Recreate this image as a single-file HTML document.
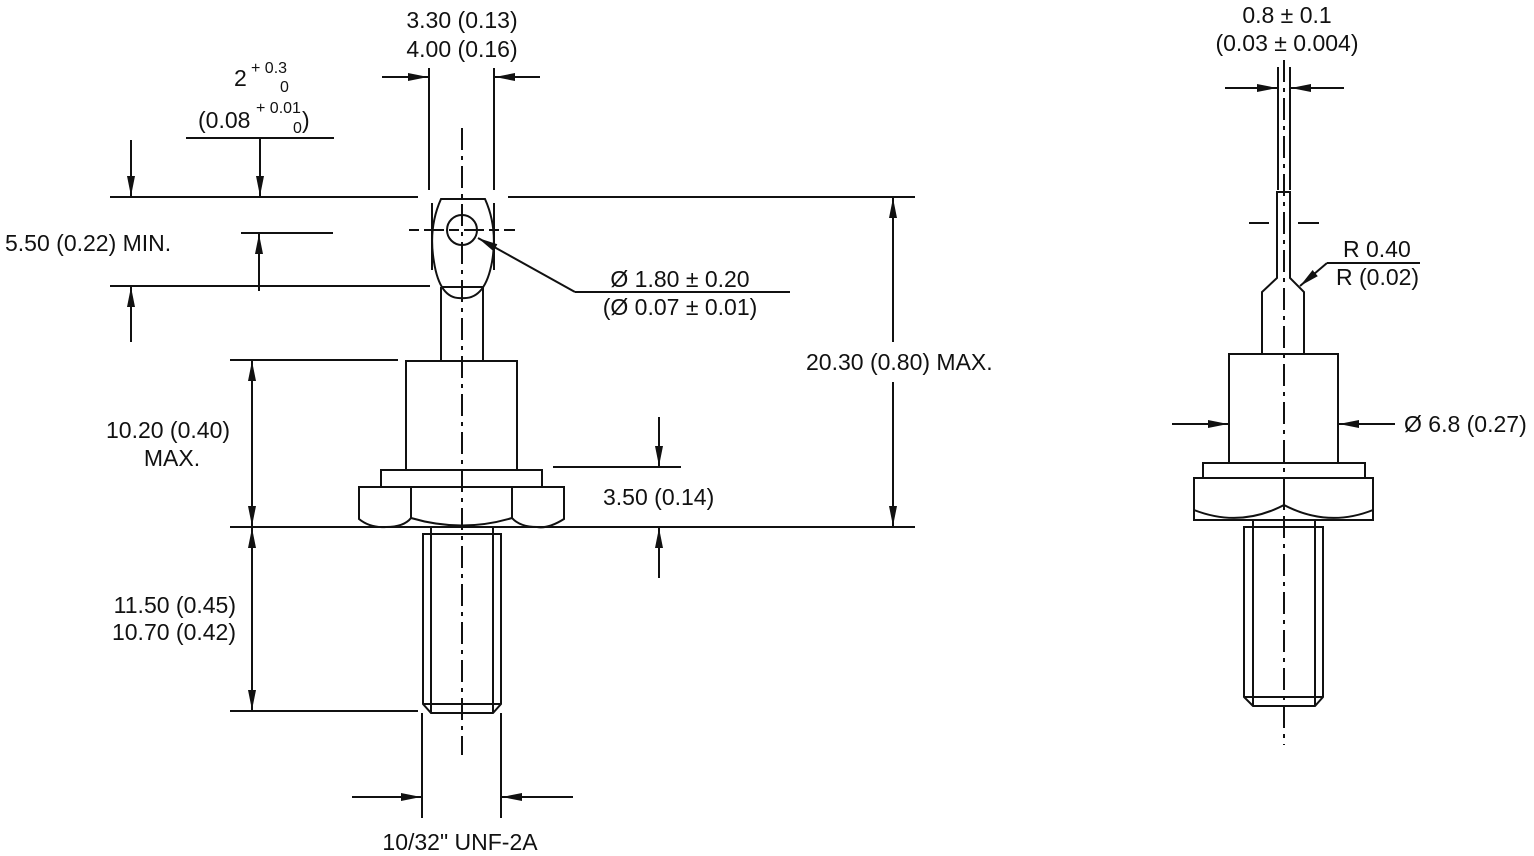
<!DOCTYPE html>
<html><head><meta charset="utf-8"><style>
html,body{margin:0;padding:0;background:#fff;}
svg{display:block;}
text{font-family:"Liberation Sans",Arial,sans-serif;font-size:23px;fill:#111;}
.s{font-size:16px;}
</style></head><body>
<svg width="1534" height="856" viewBox="0 0 1534 856" xmlns="http://www.w3.org/2000/svg">
<defs>
<marker id="a" viewBox="0 0 20 10" refX="20" refY="5" markerWidth="20" markerHeight="10" markerUnits="userSpaceOnUse" orient="auto">
<path d="M0,1 L20,5 L0,9 Z" fill="#111"/></marker>
</defs>
<g stroke="#111" stroke-width="2" fill="none">
<line x1="462" y1="128" x2="462" y2="755" stroke-dasharray="22,6,4,6"/>
<line x1="429" y1="68" x2="429" y2="190"/>
<line x1="494" y1="68" x2="494" y2="190"/>
<line x1="382" y1="77" x2="428" y2="77" marker-end="url(#a)"/>
<line x1="540" y1="77" x2="495" y2="77" marker-end="url(#a)"/>
<line x1="110" y1="197" x2="418" y2="197"/>
<line x1="508" y1="197" x2="915" y2="197"/>
<line x1="186" y1="138" x2="334" y2="138"/>
<line x1="131" y1="140" x2="131" y2="196" marker-end="url(#a)"/>
<line x1="260" y1="138" x2="260" y2="196" marker-end="url(#a)"/>
<line x1="241" y1="233" x2="333" y2="233"/>
<line x1="259" y1="291" x2="259" y2="234" marker-end="url(#a)"/>
<line x1="110" y1="286" x2="430" y2="286"/>
<line x1="131" y1="342" x2="131" y2="287" marker-end="url(#a)"/>
<line x1="432" y1="203" x2="432" y2="270"/>
<line x1="494" y1="203" x2="494" y2="270"/>
<path d="M441,199 L485,199 Q498,228 492,262 Q485,300 462,298 Q440,300 434,262 Q428,228 441,199 Z"/>
<line x1="441" y1="287" x2="484" y2="287"/>
<circle cx="462" cy="230" r="15"/>
<line x1="409" y1="230" x2="515" y2="230" stroke-dasharray="10,5,20,5"/>
<line x1="575" y1="292" x2="478" y2="238" marker-end="url(#a)"/>
<line x1="575" y1="292" x2="790" y2="292"/>
<line x1="441" y1="287" x2="441" y2="361"/>
<line x1="483" y1="287" x2="483" y2="361"/>
<rect x="406" y="361" width="111" height="109"/>
<line x1="230" y1="360" x2="398" y2="360"/>
<rect x="381" y="470" width="161" height="17"/>
<path d="M359,487 L564,487 L564,519 Q548,529 537,527 Q520,527 512,518 Q462,533 411,518 Q404,527 386,527 Q370,528 359,519 Z"/>
<line x1="411" y1="487" x2="411" y2="518"/>
<line x1="512" y1="487" x2="512" y2="518"/>
<line x1="230" y1="527" x2="915" y2="527"/>
<line x1="553" y1="467" x2="681" y2="467"/>
<line x1="659" y1="417" x2="659" y2="466" marker-end="url(#a)"/>
<line x1="659" y1="578" x2="659" y2="528" marker-end="url(#a)"/>
<line x1="893" y1="342" x2="893" y2="198" marker-end="url(#a)"/>
<line x1="893" y1="382" x2="893" y2="526" marker-end="url(#a)"/>
<line x1="252" y1="440" x2="252" y2="361" marker-end="url(#a)"/>
<line x1="252" y1="440" x2="252" y2="526" marker-end="url(#a)"/>
<line x1="252" y1="620" x2="252" y2="528" marker-end="url(#a)"/>
<line x1="252" y1="620" x2="252" y2="710" marker-end="url(#a)"/>
<line x1="230" y1="711" x2="418" y2="711"/>
<path d="M423,534 L501,534 L501,704 L493,713 L431,713 L423,704 Z"/>
<line x1="423" y1="704" x2="501" y2="704"/>
<line x1="431" y1="527" x2="431" y2="713"/>
<line x1="493" y1="527" x2="493" y2="713"/>
<line x1="422" y1="713" x2="422" y2="818"/>
<line x1="501" y1="713" x2="501" y2="818"/>
<line x1="352" y1="797" x2="421" y2="797" marker-end="url(#a)"/>
<line x1="573" y1="797" x2="502" y2="797" marker-end="url(#a)"/>

<line x1="1284" y1="60" x2="1284" y2="745" stroke-dasharray="22,6,4,6"/>
<line x1="1278" y1="67" x2="1278" y2="190"/>
<line x1="1290" y1="67" x2="1290" y2="190"/>
<line x1="1225" y1="88" x2="1277" y2="88" marker-end="url(#a)"/>
<line x1="1344" y1="88" x2="1291" y2="88" marker-end="url(#a)"/>
<path d="M1262,354 L1262,292 L1277,278 L1277,192 L1290,192 L1290,278 L1304,292 L1304,354"/>
<line x1="1249" y1="223" x2="1269" y2="223"/>
<line x1="1298" y1="223" x2="1319" y2="223"/>
<line x1="1327" y1="263" x2="1420" y2="263"/>
<line x1="1327" y1="263" x2="1300" y2="286" marker-end="url(#a)"/>
<rect x="1229" y="354" width="109" height="109"/>
<line x1="1172" y1="424" x2="1228" y2="424" marker-end="url(#a)"/>
<line x1="1395" y1="424" x2="1339" y2="424" marker-end="url(#a)"/>
<rect x="1203" y="463" width="162" height="15"/>
<path d="M1194,478 L1373,478 L1373,520 L1194,520 Z"/>
<line x1="1284" y1="478" x2="1284" y2="505"/>
<path d="M1194,510 Q1240,528 1284,505 Q1328,528 1373,510"/>
<path d="M1244,527 L1323,527 L1323,697 L1315,706 L1253,706 L1244,697 Z"/>
<line x1="1244" y1="697" x2="1323" y2="697"/>
<line x1="1253" y1="520" x2="1253" y2="706"/>
<line x1="1315" y1="520" x2="1315" y2="706"/>
</g>

<text x="462" y="28" text-anchor="middle">3.30 (0.13)</text>
<text x="462" y="57" text-anchor="middle">4.00 (0.16)</text>
<text x="234" y="86">2</text>
<text x="251" y="73" class="s">+ 0.3</text>
<text x="280" y="92" class="s">0</text>
<text x="198" y="128">(0.08</text>
<text x="256" y="113" class="s">+ 0.01</text>
<text x="293" y="133" class="s">0</text>
<text x="302" y="128">)</text>
<text x="5" y="251">5.50 (0.22) MIN.</text>
<text x="680" y="287" text-anchor="middle">Ø 1.80 ± 0.20</text>
<text x="680" y="315" text-anchor="middle">(Ø 0.07 ± 0.01)</text>
<text x="806" y="370">20.30 (0.80) MAX.</text>
<text x="168" y="438" text-anchor="middle">10.20 (0.40)</text>
<text x="172" y="466" text-anchor="middle">MAX.</text>
<text x="603" y="505">3.50 (0.14)</text>
<text x="236" y="613" text-anchor="end">11.50 (0.45)</text>
<text x="236" y="640" text-anchor="end">10.70 (0.42)</text>
<text x="460" y="850" text-anchor="middle">10/32" UNF-2A</text>
<text x="1287" y="23" text-anchor="middle">0.8 ± 0.1</text>
<text x="1287" y="51" text-anchor="middle">(0.03 ± 0.004)</text>
<text x="1343" y="257">R 0.40</text>
<text x="1336" y="285">R (0.02)</text>
<text x="1404" y="432">Ø 6.8 (0.27)</text>
</svg>
</body></html>
